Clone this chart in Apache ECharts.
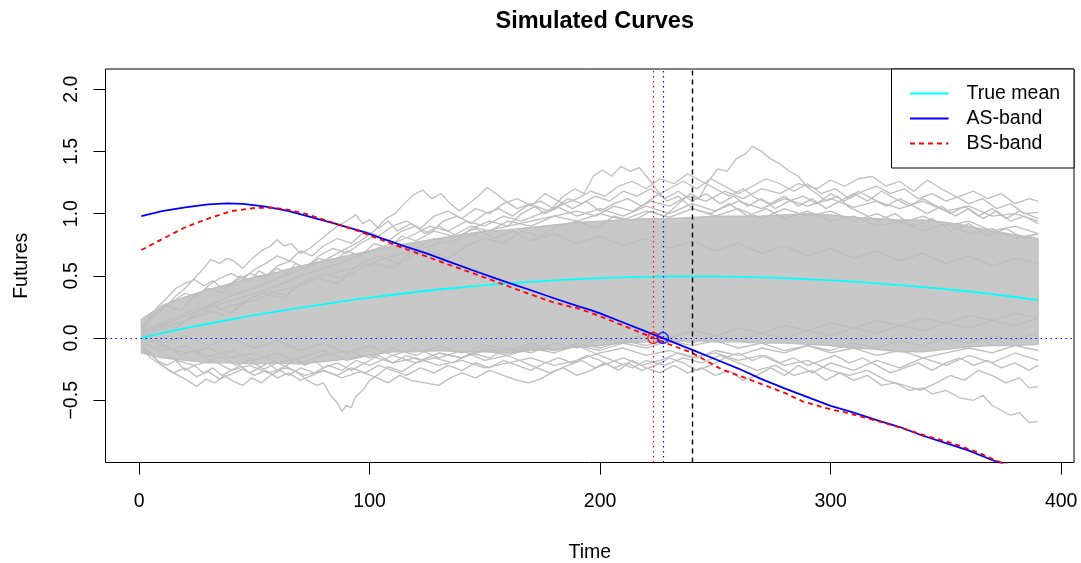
<!DOCTYPE html>
<html><head><meta charset="utf-8">
<script src="https://cdn.jsdelivr.net/npm/echarts@6/dist/echarts.min.js"></script>
<style>html,body{margin:0;padding:0;background:#fff}#c{width:1081px;height:563px}</style>
</head><body><div id="c"></div>
<script>
// ---------- data ----------
const chartTitle = 'Simulated Curves';
const xName = 'Time', yName = 'Futures';
const xTicks = [0, 100, 200, 300, 400];
const yTicks = [-0.5, 0, 0.5, 1, 1.5, 2];
const legendNames = ['True mean', 'AS-band', 'BS-band'];

const meanCurve = [[1,0.0],[10,0.04],[20,0.08],[30,0.115],[40,0.15],[50,0.185],[60,0.215],[70,0.245],[80,0.27],[90,0.30],[100,0.325],[110,0.348],[120,0.37],[130,0.39],[140,0.408],[150,0.425],[160,0.44],[170,0.452],[180,0.464],[190,0.474],[200,0.482],[210,0.488],[220,0.492],[230,0.495],[240,0.496],[250,0.495],[260,0.492],[270,0.488],[280,0.481],[290,0.473],[300,0.464],[310,0.453],[320,0.44],[330,0.426],[340,0.41],[350,0.393],[360,0.374],[370,0.353],[380,0.33],[390,0.305]];

const asBand = [[1,0.98],[10,1.02],[20,1.05],[30,1.074],[38,1.082],[45,1.078],[55,1.056],[65,1.02],[75,0.97],[85,0.92],[97,0.855],[105,0.803],[115,0.738],[125,0.678],[135,0.61],[145,0.543],[155,0.478],[161,0.44],[170,0.384],[180,0.32],[190,0.258],[196,0.225],[200,0.198],[210,0.125],[220,0.052],[227.2,0.0],[240,-0.095],[250,-0.17],[260,-0.245],[270,-0.33],[280,-0.405],[290,-0.475],[300,-0.545],[310,-0.60],[320,-0.66],[330,-0.715],[340,-0.785],[350,-0.845],[360,-0.905],[370,-0.98],[380,-1.045],[390,-1.11]];

const bsBand = [[1,0.707],[10,0.795],[20,0.89],[30,0.96],[40,1.02],[50,1.045],[58,1.048],[65,1.03],[72,1.0],[80,0.952],[90,0.89],[96,0.854],[105,0.79],[115,0.72],[125,0.653],[135,0.585],[145,0.52],[155,0.452],[161,0.41],[170,0.35],[180,0.285],[190,0.24],[196,0.203],[200,0.175],[210,0.10],[220,0.025],[223.1,0.0],[230,-0.05],[240,-0.12],[253,-0.255],[260,-0.30],[270,-0.37],[280,-0.44],[288,-0.51],[300,-0.573],[308,-0.605],[320,-0.665],[330,-0.718],[342,-0.79],[352,-0.84],[363,-0.913],[372,-0.985],[380,-1.04],[390,-1.11]];

const crossBS = 223.1, crossAS = 227.2, refTime = 240, hLevel = 0;

const bandT     = [1,10,20,30,40,50,60,70,80,90,100,110,120,130,140,150,160,170,180,190,200,210,220,230,240,250,260,270,280,290,300,310,320,330,340,350,360,370,380,390];
const bandUpper = [0.15,0.26,0.33,0.39,0.44,0.49,0.53,0.58,0.62,0.66,0.70,0.74,0.77,0.80,0.83,0.86,0.87,0.89,0.91,0.93,0.94,0.95,0.96,0.96,0.97,0.98,0.98,0.98,0.99,1.00,0.99,0.97,0.96,0.95,0.95,0.93,0.90,0.86,0.83,0.80];
const bandLower = [-0.12,-0.16,-0.18,-0.20,-0.20,-0.21,-0.20,-0.21,-0.19,-0.17,-0.14,-0.11,-0.11,-0.10,-0.11,-0.11,-0.12,-0.10,-0.09,-0.07,-0.06,-0.04,-0.03,-0.03,-0.02,-0.03,-0.03,-0.04,-0.04,-0.05,-0.06,-0.08,-0.09,-0.11,-0.11,-0.09,-0.07,-0.06,-0.06,-0.05];

const simU1 = [[1,0.02],[8,0.09],[15,0.06],[22,0.16],[30,0.22],[38,0.18],[46,0.3],[54,0.36],[62,0.32],[70,0.44],[78,0.48],[86,0.44],[94,0.54],[102,0.6],[110,0.56],[118,0.66],[126,0.7],[134,0.64],[142,0.74],[150,0.8],[158,0.76],[166,0.86],[174,0.82],[182,0.9],[190,0.94],[198,0.88],[206,0.98],[214,0.94],[222,1.02],[228,0.98],[234,1.08],[239,1.16],[243,1.12],[247,1.26],[251,1.36],[255,1.34],[259,1.44],[263,1.48],[266,1.54],[270,1.50],[274,1.44],[278,1.40],[282,1.34],[286,1.30],[290,1.21],[294,1.16],[298,1.10],[303,1.14],[308,1.05],[314,1.0],[320,0.94],[328,1.0],[336,0.9],[344,0.96],[352,0.86],[360,0.92],[368,0.82],[376,0.88],[384,0.8],[390,0.84]];
const simU2 = [[1,0.04],[8,0.12],[16,0.08],[24,0.2],[32,0.26],[40,0.2],[48,0.32],[56,0.38],[64,0.34],[72,0.46],[80,0.52],[88,0.48],[96,0.6],[104,0.66],[112,0.6],[120,0.72],[128,0.8],[136,0.76],[144,0.88],[152,0.94],[160,0.9],[166,1.0],[172,1.06],[178,1.02],[184,1.14],[189,1.2],[193,1.16],[197,1.3],[201,1.35],[205,1.30],[209,1.38],[213,1.34],[217,1.37],[221,1.28],[225,1.18],[229,1.1],[234,1.14],[240,1.04],[248,1.0],[256,1.08],[264,0.98],[272,1.04],[280,0.96],[290,1.02],[300,0.94],[310,0.98],[320,0.9],[330,0.94],[340,0.86],[350,0.92],[360,0.84],[370,0.88],[380,0.8],[390,0.84]];
const simU3 = [[1,0.05],[4,0.12],[8,0.2],[12,0.26],[16,0.34],[20,0.4],[24,0.48],[28,0.56],[31,0.63],[35,0.6],[38,0.64],[41,0.62],[45,0.56],[49,0.64],[53,0.7],[57,0.74],[60,0.79],[63,0.74],[66,0.76],[70,0.68],[74,0.72],[78,0.78],[82,0.84],[86,0.9],[90,0.94],[94,0.99],[97,0.92],[100,0.95],[104,0.88],[108,0.94],[112,0.86],[118,0.92],[124,0.84],[130,0.9],[138,0.82],[146,0.88],[154,0.8],[162,0.86],[170,0.78],[180,0.84],[190,0.76],[200,0.82],[210,0.74],[220,0.8],[230,0.72],[240,0.78],[250,0.7],[260,0.76],[270,0.68],[280,0.74],[290,0.66],[300,0.72],[310,0.64],[320,0.7],[330,0.62],[340,0.68],[350,0.6],[360,0.66],[370,0.58],[380,0.64],[390,0.6]];
const simU4 = [[1,0.0],[10,0.08],[20,0.14],[30,0.2],[40,0.26],[50,0.3],[60,0.38],[70,0.42],[80,0.5],[90,0.55],[100,0.6],[110,0.66],[120,0.7],[130,0.76],[140,0.8],[150,0.86],[160,0.9],[170,0.94],[180,0.98],[190,1.02],[198,0.98],[206,1.06],[214,1.02],[222,1.1],[230,1.06],[238,1.14],[246,1.1],[254,1.18],[262,1.12],[270,1.2],[278,1.16],[286,1.24],[294,1.2],[300,1.27],[306,1.22],[312,1.28],[318,1.3],[324,1.22],[330,1.26],[336,1.18],[342,1.27],[348,1.2],[354,1.14],[360,1.08],[366,1.12],[372,1.04],[378,1.08],[384,1.0],[390,1.01]];
const simU5 = [[1,0.05],[10,0.12],[20,0.2],[30,0.26],[40,0.34],[50,0.4],[60,0.48],[70,0.55],[80,0.62],[88,0.7],[96,0.78],[102,0.86],[107,0.96],[111,1.0],[115,1.08],[119,1.15],[123,1.19],[127,1.12],[131,1.16],[135,1.08],[139,1.02],[143,1.08],[147,1.14],[151,1.21],[155,1.16],[159,1.1],[164,1.04],[170,1.08],[176,1.0],[182,1.05],[190,0.98],[200,1.04],[210,0.98],[220,1.06],[230,1.0],[240,1.08],[250,1.02],[260,1.1],[270,1.04],[280,1.12],[290,1.06],[300,1.12],[310,1.05],[320,1.1],[330,1.04],[340,1.1],[350,1.02],[360,1.06],[370,0.98],[380,1.0],[390,0.94]];
const simU6 = [[1,0.1],[6,0.18],[12,0.26],[18,0.22],[24,0.34],[30,0.4],[36,0.36],[42,0.46],[48,0.52],[54,0.48],[60,0.58],[66,0.62],[72,0.56],[78,0.66],[84,0.72],[90,0.68],[96,0.76],[102,0.82],[108,0.78],[114,0.86],[120,0.9],[126,0.84],[132,0.94],[138,0.98],[144,0.92],[150,1.0],[156,1.04],[162,0.98],[168,1.06],[174,1.1],[180,1.04],[186,1.12],[192,1.08],[198,1.14],[204,1.1],[210,1.18],[216,1.14],[222,1.2],[228,1.12],[234,1.18],[240,1.1],[246,1.16],[252,1.08],[258,1.14],[264,1.06],[270,1.12],[276,1.04],[282,1.1],[288,1.14],[294,1.08],[300,1.16],[306,1.1],[312,1.18],[318,1.12],[324,1.06],[330,1.12],[336,1.06],[342,1.0],[348,1.06],[354,0.98],[360,1.04],[366,0.96],[372,1.02],[378,0.94],[384,0.98],[390,0.92]];
const simU7 = [[1,0.06],[4,0.15],[8,0.25],[12,0.32],[16,0.4],[20,0.44],[24,0.47],[28,0.42],[32,0.46],[36,0.40],[40,0.44],[44,0.50],[48,0.46],[52,0.54],[56,0.50],[60,0.56],[64,0.52],[68,0.60],[72,0.56],[78,0.64],[84,0.60],[90,0.70],[96,0.66],[102,0.76],[108,0.72],[114,0.82],[120,0.78],[128,0.86],[136,0.82],[144,0.9],[152,0.86],[160,0.94],[170,0.9],[180,0.98],[190,0.94],[200,1.0],[210,0.95],[220,1.02],[230,0.97],[240,1.04],[250,0.98],[260,1.04],[270,0.96],[280,1.04],[290,0.98],[300,1.02],[310,0.94],[320,1.0],[330,0.92],[340,0.98],[350,0.9],[360,0.94],[370,0.86],[380,0.9],[390,0.84]];
const simU8 = [[1,0.08],[5,0.16],[10,0.24],[15,0.3],[20,0.36],[25,0.33],[30,0.42],[35,0.48],[40,0.52],[45,0.47],[50,0.55],[55,0.6],[60,0.66],[65,0.62],[70,0.7],[75,0.66],[80,0.74],[86,0.8],[92,0.76],[98,0.86],[104,0.82],[110,0.9],[116,0.94],[122,0.88],[128,0.98],[134,1.02],[140,0.96],[146,1.04],[152,1.0],[158,1.08],[164,1.12],[170,1.06],[176,1.16],[182,1.1],[188,1.04],[194,1.1],[200,1.02],[206,1.08],[212,1.12],[218,1.06],[224,1.14],[230,1.2],[236,1.26],[242,1.2],[248,1.28],[254,1.22],[260,1.16],[266,1.22],[272,1.28],[278,1.24],[284,1.18],[290,1.24],[296,1.16],[302,1.2],[308,1.12],[314,1.18],[320,1.22],[326,1.16],[332,1.2],[338,1.12],[344,1.16],[350,1.1],[356,1.14],[362,1.18],[368,1.12],[374,1.16],[380,1.08],[386,1.12],[390,1.1]];
const simU9 = [[1,0.03],[10,0.1],[20,0.18],[30,0.24],[40,0.3],[50,0.36],[60,0.42],[70,0.5],[80,0.56],[90,0.62],[100,0.7],[110,0.76],[118,0.82],[126,0.9],[134,0.86],[142,0.94],[150,0.9],[158,0.98],[166,0.94],[174,1.0],[182,1.06],[190,1.12],[196,1.18],[202,1.14],[208,1.22],[214,1.26],[220,1.2],[226,1.28],[232,1.24],[238,1.32],[244,1.26],[250,1.2],[256,1.14],[262,1.2],[268,1.12],[274,1.08],[280,1.14],[286,1.06],[292,1.12],[298,1.04],[304,1.1],[310,1.16],[316,1.1],[322,1.18],[328,1.12],[334,1.06],[340,1.12],[346,1.06],[352,1.0],[358,1.06],[364,0.98],[370,1.04],[376,0.96],[382,1.02],[390,0.96]];

const simB1 = [[1,-0.02],[6,-0.08],[12,-0.05],[18,-0.14],[24,-0.10],[30,-0.18],[36,-0.15],[42,-0.22],[48,-0.18],[54,-0.25],[60,-0.20],[65,-0.24],[69,-0.28],[73,-0.34],[77,-0.38],[80,-0.36],[83,-0.46],[86,-0.52],[88,-0.59],[90,-0.54],[92,-0.56],[94,-0.47],[97,-0.42],[100,-0.34],[104,-0.29],[108,-0.23],[114,-0.27],[120,-0.2],[128,-0.16],[136,-0.2],[144,-0.12],[152,-0.16],[160,-0.08],[170,-0.12],[180,-0.04],[190,-0.08],[200,0.0],[210,-0.04],[220,0.04],[230,0.0],[240,0.06],[250,0.02],[260,0.08],[270,0.04],[280,0.1],[290,0.06],[300,0.12],[310,0.08],[320,0.14],[330,0.1],[340,0.16],[350,0.12],[360,0.18],[370,0.14],[380,0.2],[390,0.16]];
const simB2 = [[1,-0.04],[8,-0.1],[16,-0.18],[24,-0.22],[32,-0.18],[40,-0.26],[48,-0.22],[56,-0.28],[64,-0.24],[72,-0.30],[80,-0.26],[88,-0.32],[96,-0.27],[102,-0.31],[108,-0.36],[113,-0.30],[118,-0.34],[124,-0.36],[130,-0.38],[135,-0.32],[140,-0.28],[146,-0.32],[152,-0.26],[158,-0.3],[164,-0.34],[169,-0.36],[174,-0.33],[180,-0.27],[186,-0.22],[192,-0.18],[198,-0.24],[204,-0.2],[210,-0.16],[218,-0.22],[226,-0.18],[234,-0.12],[242,-0.16],[250,-0.1],[260,-0.14],[270,-0.08],[280,-0.12],[290,-0.06],[300,-0.1],[310,-0.04],[320,-0.08],[330,-0.02],[340,-0.06],[350,0.0],[360,-0.04],[370,0.02],[380,-0.02],[390,0.04]];
const simB3 = [[1,-0.03],[10,-0.1],[20,-0.06],[30,-0.15],[40,-0.1],[50,-0.18],[60,-0.12],[70,-0.2],[80,-0.14],[90,-0.1],[100,-0.16],[110,-0.08],[120,-0.14],[130,-0.06],[140,-0.12],[150,-0.05],[160,-0.1],[170,-0.04],[180,-0.1],[190,-0.06],[200,-0.14],[208,-0.2],[214,-0.24],[220,-0.18],[228,-0.22],[236,-0.16],[244,-0.2],[252,-0.14],[260,-0.2],[268,-0.26],[276,-0.22],[284,-0.3],[292,-0.26],[298,-0.34],[304,-0.28],[310,-0.34],[316,-0.30],[322,-0.38],[328,-0.36],[334,-0.42],[340,-0.40],[344,-0.45],[350,-0.42],[356,-0.48],[362,-0.50],[366,-0.46],[370,-0.54],[374,-0.58],[378,-0.62],[382,-0.60],[386,-0.68],[390,-0.67]];
const simB4 = [[1,0.0],[10,-0.06],[20,-0.12],[30,-0.08],[40,-0.16],[50,-0.12],[60,-0.2],[70,-0.16],[80,-0.1],[90,-0.18],[100,-0.14],[110,-0.2],[120,-0.16],[130,-0.22],[140,-0.18],[150,-0.24],[160,-0.2],[170,-0.16],[180,-0.22],[190,-0.18],[200,-0.12],[210,-0.08],[220,-0.14],[230,-0.1],[240,-0.16],[250,-0.12],[260,-0.18],[270,-0.14],[280,-0.22],[290,-0.18],[300,-0.26],[308,-0.3],[316,-0.26],[324,-0.34],[332,-0.38],[339,-0.42],[346,-0.36],[352,-0.30],[358,-0.34],[364,-0.26],[370,-0.3],[376,-0.36],[382,-0.32],[386,-0.40],[390,-0.39]];
const simB5 = [[1,-0.05],[5,-0.12],[9,-0.2],[13,-0.26],[17,-0.3],[21,-0.34],[25,-0.39],[29,-0.33],[33,-0.36],[37,-0.3],[41,-0.35],[45,-0.38],[49,-0.32],[53,-0.36],[57,-0.3],[61,-0.26],[65,-0.3],[70,-0.24],[76,-0.28],[82,-0.22],[88,-0.26],[94,-0.18],[100,-0.22],[110,-0.14],[120,-0.2],[130,-0.12],[140,-0.16],[150,-0.08],[160,-0.12],[170,-0.06],[180,-0.1],[190,-0.04],[200,-0.08],[210,-0.02],[220,-0.06],[230,0.0],[240,-0.04],[250,0.02],[260,-0.02],[270,0.04],[280,0.0],[290,0.06],[300,0.02],[310,0.08],[320,0.04],[330,0.1],[340,0.06],[350,0.12],[360,0.08],[370,0.14],[380,0.1],[390,0.16]];
const simB6 = [[1,0.02],[10,-0.04],[20,0.02],[30,-0.06],[40,0.0],[50,-0.08],[60,-0.02],[70,-0.1],[80,-0.04],[90,-0.12],[100,-0.06],[110,-0.14],[120,-0.08],[130,-0.16],[140,-0.1],[150,-0.18],[160,-0.14],[170,-0.22],[178,-0.28],[184,-0.24],[190,-0.30],[196,-0.26],[202,-0.2],[208,-0.26],[214,-0.18],[220,-0.24],[226,-0.28],[232,-0.22],[238,-0.28],[244,-0.24],[250,-0.3],[256,-0.26],[262,-0.34],[268,-0.3],[274,-0.24],[280,-0.3],[286,-0.22],[292,-0.28],[300,-0.2],[310,-0.26],[320,-0.18],[330,-0.24],[340,-0.16],[350,-0.22],[360,-0.14],[370,-0.2],[380,-0.12],[390,-0.18]];
const simB7 = [[1,-0.06],[4,-0.12],[8,-0.18],[12,-0.22],[16,-0.18],[20,-0.26],[24,-0.22],[28,-0.28],[32,-0.24],[36,-0.30],[40,-0.26],[44,-0.22],[48,-0.28],[52,-0.24],[56,-0.2],[60,-0.26],[64,-0.22],[68,-0.16],[72,-0.22],[76,-0.18],[80,-0.24],[86,-0.2],[92,-0.26],[98,-0.2],[104,-0.14],[110,-0.2],[116,-0.14],[122,-0.18],[130,-0.12],[140,-0.16],[150,-0.1],[160,-0.14],[170,-0.08],[180,-0.12],[190,-0.06],[200,-0.1],[210,-0.04],[220,-0.08],[230,-0.02],[240,-0.06],[250,-0.02],[260,-0.08],[270,-0.04],[280,-0.1],[290,-0.06],[300,-0.12],[310,-0.08],[320,-0.14],[330,-0.1],[340,-0.16],[350,-0.12],[360,-0.08],[370,-0.12],[380,-0.06],[390,-0.1]];
const simB8 = [[1,-0.08],[5,-0.16],[10,-0.22],[15,-0.28],[20,-0.24],[25,-0.31],[30,-0.27],[35,-0.33],[40,-0.29],[45,-0.25],[50,-0.3],[55,-0.26],[60,-0.32],[65,-0.28],[70,-0.34],[75,-0.3],[80,-0.26],[86,-0.3],[92,-0.24],[98,-0.28],[104,-0.22],[110,-0.26],[116,-0.3],[122,-0.24],[128,-0.28],[134,-0.22],[140,-0.26],[146,-0.2],[152,-0.24],[158,-0.18],[164,-0.22],[170,-0.26],[176,-0.2],[182,-0.16],[188,-0.2],[194,-0.14],[200,-0.18],[206,-0.24],[212,-0.2],[218,-0.26],[224,-0.22],[230,-0.16],[236,-0.2],[242,-0.26],[248,-0.22],[254,-0.16],[260,-0.12],[266,-0.18],[272,-0.14],[278,-0.2],[284,-0.16],[290,-0.22],[296,-0.18],[302,-0.14],[308,-0.2],[314,-0.16],[320,-0.22],[326,-0.28],[332,-0.24],[338,-0.2],[344,-0.26],[350,-0.2],[356,-0.16],[362,-0.22],[368,-0.18],[374,-0.24],[380,-0.2],[386,-0.26],[390,-0.22]];

const simCurves = [simU1, simU2, simU3, simU4, simU5, simU6, simU7, simU8, simU9, simB1, simB2, simB3, simB4, simB5, simB6, simB7, simB8];

// ---------- chart ----------
const FONT = "'Liberation Sans', Arial, sans-serif";
const GRAY = '#bebebe';
const chart = echarts.init(document.getElementById('c'), null, {renderer: 'canvas'});

const series = [];
// dense core of the simulated curves: polygon between lower and upper envelopes
series.push({
  type: 'custom', name: 'simCore', silent: true, clip: true,
  data: [[bandT[0], bandUpper[0]]],
  renderItem: function (params, api) {
    const pts = [];
    for (let i = 0; i < bandT.length; i++) pts.push(api.coord([bandT[i], bandUpper[i]]));
    for (let i = bandT.length - 1; i >= 0; i--) pts.push(api.coord([bandT[i], bandLower[i]]));
    return {type: 'polygon', shape: {points: pts}, style: {fill: '#c8c8c8', stroke: GRAY, lineWidth: 1.3}};
  }
});
simCurves.forEach((d, k) => series.push({
  type: 'line', name: 'sim' + k, data: d, symbol: 'none', silent: true,
  lineStyle: {width: 1.3, color: GRAY}
}));
series.push({type: 'line', name: legendNames[0], data: meanCurve, symbol: 'none', lineStyle: {width: 1.8, color: '#00ffff'}});
series.push({type: 'line', name: legendNames[1], data: asBand, symbol: 'none', lineStyle: {width: 1.8, color: '#0000ff'}});
series.push({type: 'line', name: legendNames[2], data: bsBand, symbol: 'none', lineStyle: {width: 1.8, color: '#ff0000', type: [5, 4]}});
const dotted = [1.5, 3.5];
series.push({
  type: 'line', name: 'refLine', data: [], symbol: 'none',
  markLine: {symbol: ['none', 'none'], silent: true, label: {show: false}, animation: false,
    lineStyle: {color: '#000000', type: [5, 4], width: 1.4},
    data: [{xAxis: refTime}]}
});
series.push({
  type: 'scatter', name: 'bsCross', data: [[crossBS, hLevel]], symbol: 'circle', symbolSize: 11, z: 5,
  itemStyle: {color: 'rgba(0,0,0,0)', borderColor: '#ff0000', borderWidth: 1.4},
  markLine: {symbol: ['none', 'none'], silent: true, label: {show: false}, animation: false,
    lineStyle: {color: '#ff0000', type: dotted, width: 1.2},
    data: [{xAxis: crossBS}]}
});
series.push({
  type: 'scatter', name: 'asCross', data: [[crossAS, hLevel]], symbol: 'circle', symbolSize: 11, z: 5,
  itemStyle: {color: 'rgba(0,0,0,0)', borderColor: '#0000ff', borderWidth: 1.4},
  markLine: {symbol: ['none', 'none'], silent: true, label: {show: false}, animation: false,
    lineStyle: {color: '#0000ff', type: dotted, width: 1.2},
    data: [{xAxis: crossAS}, {yAxis: hLevel}]}
});

// legend box (R style)
const LX = 891.5, LY = 69, LW = 182.5, LH = 99;
const legendStyles = [
  {color: '#00ffff', dash: null}, {color: '#0000ff', dash: null}, {color: '#ff0000', dash: [5, 4]}
];
const graphics = [{type: 'rect', shape: {x: LX, y: LY, width: LW, height: LH}, style: {fill: '#fff', stroke: '#000', lineWidth: 1}, z: 100}];
legendNames.forEach((n, i) => {
  const cy = LY + 24.5 + i * 25;
  graphics.push({type: 'line', shape: {x1: LX + 18.5, y1: cy, x2: LX + 57, y2: cy},
    style: {stroke: legendStyles[i].color, lineWidth: 1.8, lineDash: legendStyles[i].dash}, z: 101});
  graphics.push({type: 'text', x: LX + 75, y: cy, style: {text: n, fill: '#000', font: '19.5px ' + FONT, textVerticalAlign: 'middle', textAlign: 'left'}, z: 101});
});

chart.setOption({
  animation: false,
  backgroundColor: '#fff',
  title: {text: chartTitle, left: 589.75, textAlign: 'center', top: 5,
    textStyle: {fontFamily: FONT, fontSize: 23.5, fontWeight: 'bold', color: '#000'}},
  grid: {left: 105.5, top: 69, width: 968.5, height: 393.5, show: true, borderColor: '#000', borderWidth: 1,
    backgroundColor: 'transparent', containLabel: false, outerBoundsMode: 'none'},
  xAxis: {
    type: 'value', min: -14.56, max: 405.56,
    name: xName, nameLocation: 'middle', nameGap: 80,
    nameTextStyle: {fontFamily: FONT, fontSize: 19.5, color: '#000'},
    axisLine: {show: false, onZero: false},
    axisTick: {show: true, customValues: xTicks, length: 12, lineStyle: {color: '#000', width: 1}},
    axisLabel: {customValues: xTicks, margin: 29, fontFamily: FONT, fontSize: 19.5, color: '#000'},
    splitLine: {show: false}
  },
  yAxis: {
    type: 'value', min: -1.0, max: 2.162,
    name: yName, nameLocation: 'middle', nameGap: 74, nameRotate: 90,
    nameTextStyle: {fontFamily: FONT, fontSize: 19.5, color: '#000'},
    axisLine: {show: false, onZero: false},
    axisTick: {show: true, customValues: yTicks, length: 12, lineStyle: {color: '#000', width: 1}},
    axisLabel: {customValues: yTicks, rotate: 90, margin: 24, fontFamily: FONT, fontSize: 19.5, color: '#000',
      formatter: v => (v < 0 ? '\u2212' : '') + Math.abs(v).toFixed(1)},
    splitLine: {show: false}
  },
  graphic: graphics,
  series: series
});
</script>
</body></html>
